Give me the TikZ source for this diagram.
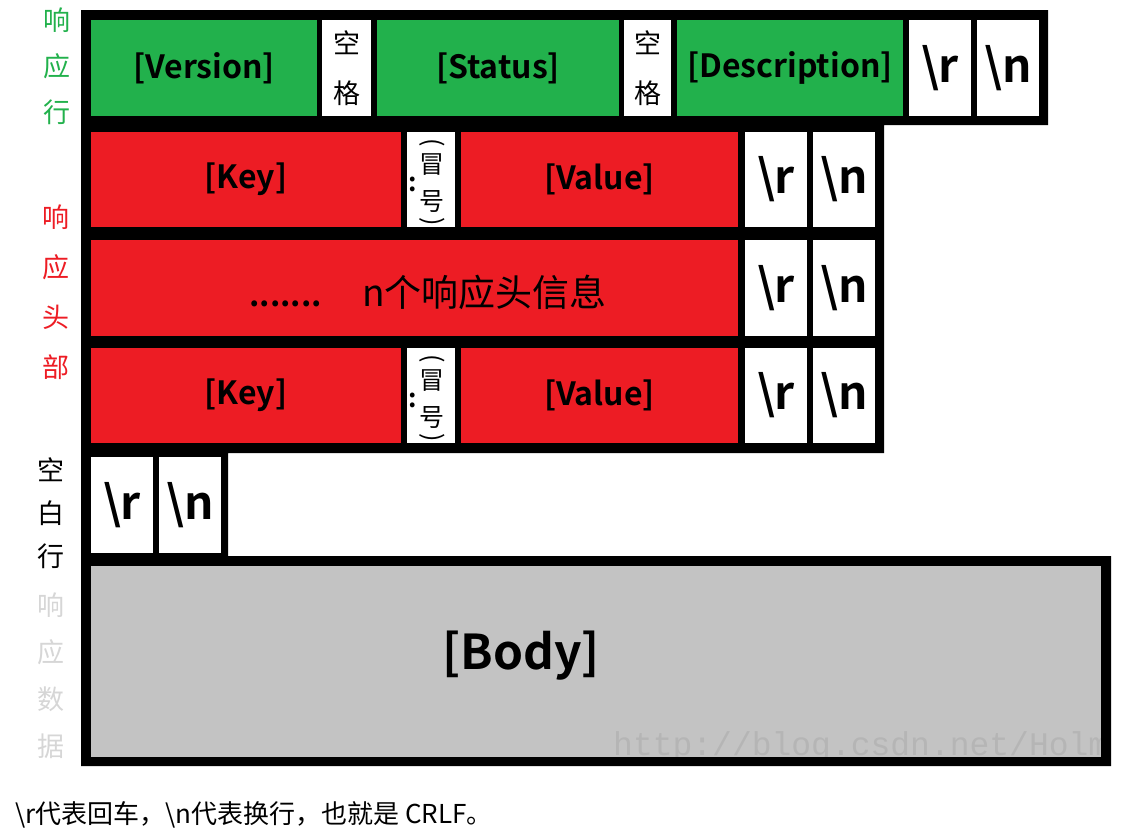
\documentclass[tikz,border=0pt]{standalone}
\usepackage{fontspec}
\usepackage{graphicx}
\setmainfont{Noto Sans CJK SC}[BoldFont={Noto Sans CJK SC Bold}]
\newfontfamily\wmfont{Liberation Mono}
\definecolor{cgreen}{HTML}{22B14C}
\definecolor{cred}{HTML}{ED1C24}
\definecolor{cgray}{HTML}{C3C3C3}
\definecolor{lgray}{HTML}{D6D6D6}
\newcommand\mkcell[7]{%
  \pgfmathsetmacro\mkW{#4-#2}\pgfmathsetmacro\mkH{#5-#3}%
  \pgfmathsetmacro\mkX{(#2+#4)/2}\pgfmathsetmacro\mkY{(#3+#5)/2}%
  \node[cellst,#6,minimum width=\mkW pt,minimum height=\mkH pt] (#1) at (\mkX,\mkY) {#7};}
\begin{document}
\begin{tikzpicture}[x=1pt,y=-1pt,
  cellst/.style={draw=none,inner sep=0pt,outer sep=0pt,align=center,text=black},
  green/.style={fill=cgreen,font=\bfseries\fontsize{32}{36}\selectfont},
  red/.style={fill=cred,font=\bfseries\fontsize{32}{36}\selectfont},
  white/.style={fill=white},
  crlf/.style={fill=white,font=\bfseries\fontsize{46}{50}\selectfont},
  spc/.style={fill=white,font=\fontsize{27}{50}\selectfont},
  side/.style={align=center,inner sep=0pt}]
\useasboundingbox (0,0) rectangle (1122,836);
% black frame
\fill[black] (81,10) -- (1048,10) -- (1048,125) -- (884,125) -- (884,453)
  -- (228,453) -- (228,556) -- (1111,556) -- (1111,766) -- (81,766) -- cycle;
% row 1: status line
\mkcell{ver}{91}{20}{317}{116}{green}{[Version]}
\mkcell{sp1}{322}{20}{371}{116}{spc}{空\\格}
\mkcell{sta}{377}{20}{619}{116}{green}{[Status]}
\mkcell{sp2}{624}{20}{671}{116}{spc}{空\\格}
\mkcell{des}{677}{20}{903}{116}{green}{[Description]}
\mkcell{r1}{909}{20}{971}{116}{crlf}{\textbackslash r}
\mkcell{n1}{977}{20}{1039}{116}{crlf}{\textbackslash n}
% row 2
\mkcell{key2}{91}{132}{401}{227}{red}{[Key]}
\mkcell{col2}{407}{132}{455}{227}{white}{}
\mkcell{val2}{461}{132}{738}{227}{red}{[Value]}
\mkcell{r2}{745}{132}{807}{227}{crlf}{\textbackslash r}
\mkcell{n2}{813}{132}{875}{227}{crlf}{\textbackslash n}
% row 3
\mkcell{more}{91}{240}{738}{336}{fill=cred}{}
\node[font=\fontsize{37}{40}\selectfont] (moretxt) at (428,292) {{\bfseries\fontsize{32}{36}\selectfont .......}\hspace{40pt}n个响应头信息};
\mkcell{r3}{745}{240}{807}{336}{crlf}{\textbackslash r}
\mkcell{n3}{813}{240}{875}{336}{crlf}{\textbackslash n}
% row 4
\mkcell{key4}{91}{348}{401}{443}{red}{[Key]}
\mkcell{col4}{407}{348}{455}{443}{white}{}
\mkcell{val4}{461}{348}{738}{443}{red}{[Value]}
\mkcell{r4}{745}{348}{807}{443}{crlf}{\textbackslash r}
\mkcell{n4}{813}{348}{875}{443}{crlf}{\textbackslash n}
% colon labels
\foreach \c/\yy in {col2/0,col4/216}{
  \node[font=\bfseries\fontsize{26}{30}\selectfont,inner sep=0pt] (\c c) at (413,184+\yy) {:};
  \node[font=\fontsize{25}{37}\selectfont,align=center,inner sep=0pt] (\c l) at (432,184+\yy)
    {\rotatebox[origin=c]{-90}{(}\\[-14pt]冒\\号\\[-18pt]\rotatebox[origin=c]{-90}{)}};
}
% row 5: blank line
\mkcell{r5}{91}{457}{153}{553}{crlf}{\textbackslash r}
\mkcell{n5}{159}{457}{221}{553}{crlf}{\textbackslash n}
% row 6: body
\mkcell{body}{91}{566}{1101}{757}{fill=cgray}{}
\node[font=\bfseries\fontsize{48}{52}\selectfont] (bodytxt) at (521,656) {[Body]};
% side labels
\node[side,text=cgreen,font=\fontsize{27}{46}\selectfont] (lab1) at (57,66) {响\\应\\行};
\node[side,text=cred,font=\fontsize{27}{50}\selectfont] (lab2) at (56,292) {响\\应\\头\\部};
\node[side,text=black,font=\fontsize{27}{43}\selectfont] (lab3) at (51,513) {空\\白\\行};
\node[side,text=lgray,font=\fontsize{27}{47}\selectfont] (lab4) at (51,676) {响\\应\\数\\据};
% watermark
\node[anchor=base west,inner sep=0pt,text=black,opacity=0.07,font=\wmfont\fontsize{33}{36}\selectfont] (wm) at (613,755) {http://blog.csdn.net/Holm};
% caption
\node[anchor=west,inner sep=0pt,font=\fontsize{26}{28}\selectfont] (cap) at (15,815)
  {\textbackslash r代表回车，\textbackslash n代表换行，也就是 CRLF。};
\end{tikzpicture}
\end{document}
